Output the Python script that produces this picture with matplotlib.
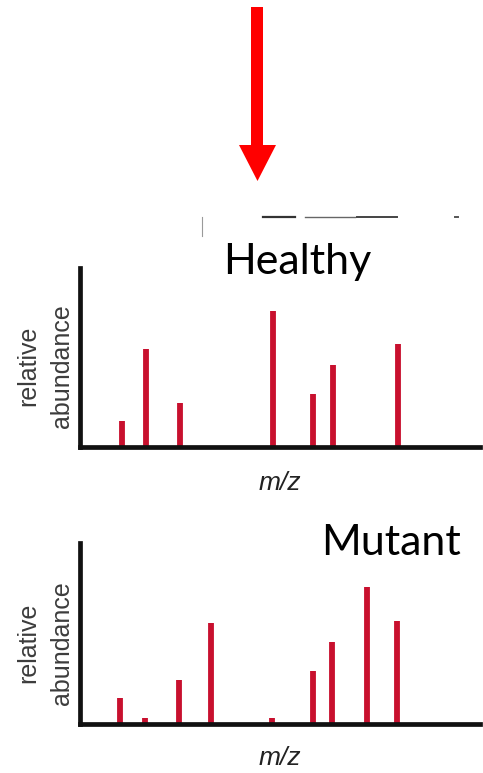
import matplotlib
matplotlib.use("Agg")
import matplotlib.pyplot as plt
from matplotlib.patches import Polygon
from matplotlib.lines import Line2D

# ---- data ----
healthy_mz = [42, 66, 100, 193, 233, 253, 318]
healthy_abund = [14.5, 55, 24.5, 76, 29.6, 45.8, 57.5]
mutant_mz = [40, 65, 99, 131, 192, 233, 252, 287, 317]
mutant_abund = [14.4, 3.3, 24.3, 55.8, 3.3, 29.3, 45.3, 75.7, 56.9]
titles = ["Healthy", "Mutant"]
ylabel_lines = ["relative", "abundance"]
xlabel = "m/z"

W, H = 483, 773
fig = plt.figure(figsize=(W / 100, H / 100), dpi=100)
fig.patch.set_facecolor("white")

def fx(px):
    return px / W

def fy(py):
    return 1 - py / H

BAR_COLOR = "#C8102E"

def panel(top, bottom, mz, ab):
    ax = fig.add_axes([fx(80), fy(bottom), fx(480) - fx(80), fy(top) - fy(bottom)])
    ax.vlines(mz, 0, ab, colors=BAR_COLOR, linewidth=4.2, zorder=2)
    ax.set_xlim(0, 400)
    ax.set_ylim(0, 100)
    for s in ["top", "right"]:
        ax.spines[s].set_visible(False)
    for s in ["left", "bottom"]:
        ax.spines[s].set_linewidth(3.4)
        ax.spines[s].set_color("#111111")
        ax.spines[s].set_capstyle("projecting")
        ax.spines[s].set_zorder(3)
    ax.set_xticks([])
    ax.set_yticks([])
    ax.patch.set_alpha(0)
    return ax

ax1 = panel(268, 447, healthy_mz, healthy_abund)
ax2 = panel(543, 724, mutant_mz, mutant_abund)

# y labels
for cy in (366, 643):
    fig.text(fx(28), fy(cy), ylabel_lines[0], rotation=90, ha="center", va="center",
             fontsize=18, color="#3c3c3c", family="Liberation Sans")
    fig.text(fx(62), fy(cy), ylabel_lines[1], rotation=90, ha="center", va="center",
             fontsize=18, color="#3c3c3c", family="Liberation Sans")

# x labels
for cy in (483, 758):
    fig.text(fx(280), fy(cy), xlabel, ha="center", va="center", fontsize=19,
             style="italic", color="#222222", family="Liberation Sans")

# titles
fig.text(fx(297), fy(274), titles[0], ha="center", va="baseline", fontsize=31,
         color="black", family="Lato")
fig.text(fx(391), fy(555), titles[1], ha="center", va="baseline", fontsize=31,
         color="black", family="Lato")

# red arrow (pixel coordinates)
arrow_px = [(251, 7), (263, 7), (263, 145), (276, 145), (257.5, 181),
            (239, 145), (251, 145)]
arrow = Polygon([(fx(x), fy(y)) for x, y in arrow_px], closed=True,
                transform=fig.transFigure, facecolor="#FF0000", edgecolor="none")
fig.patches.append(arrow)

# cropped remnants above Healthy title
fig.lines.append(Line2D([fx(202), fx(202)], [fy(217), fy(236)], transform=fig.transFigure,
                        color="#9a9a9a", linewidth=0.8))
for x0, x1, lw, c in [(263, 295, 1.6, "#333333"), (305, 355, 1.0, "#666666"),
                      (357, 397, 1.4, "#444444"), (455, 458, 1.4, "#555555")]:
    fig.lines.append(Line2D([fx(x0), fx(x1)], [fy(217), fy(217)], transform=fig.transFigure,
                            color=c, linewidth=lw, linestyle="-"))

fig.savefig("out.png", dpi=100, facecolor="white")
